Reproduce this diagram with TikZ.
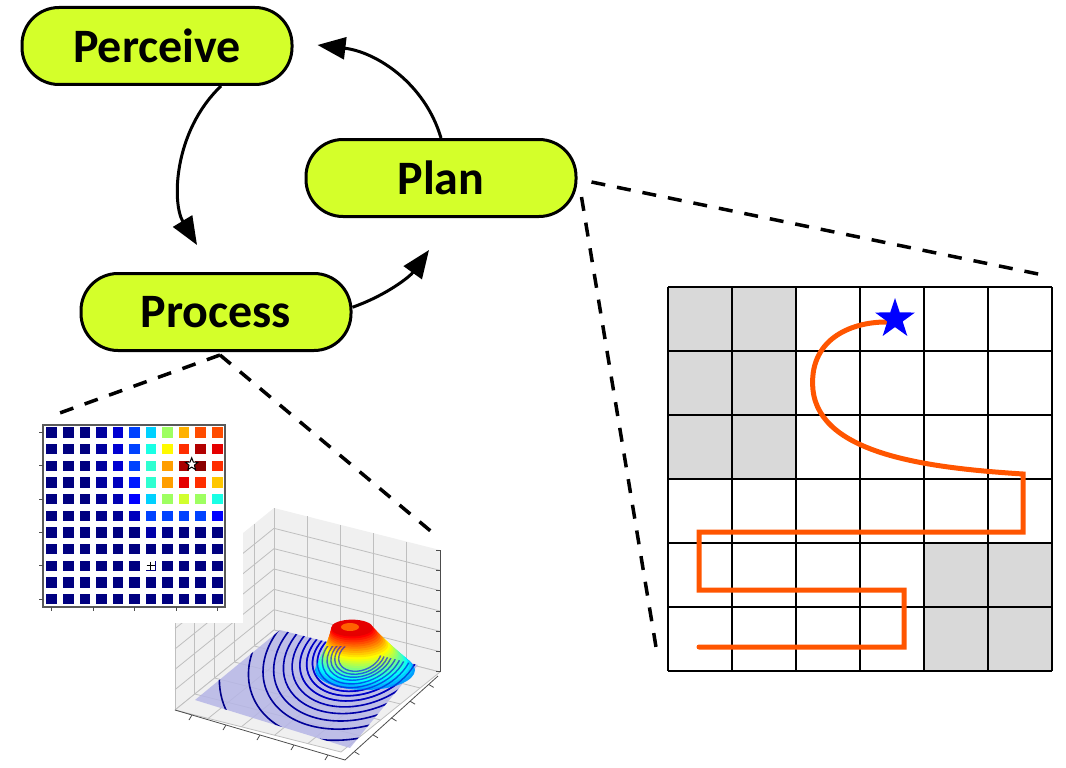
\documentclass[tikz,border=0pt]{standalone}
\usepackage{fontspec}
\setmainfont{Carlito}
\usetikzlibrary{arrows.meta,shapes.geometric,calc}

\definecolor{limefill}{RGB}{212,255,42}
\definecolor{pathorange}{RGB}{255,85,0}
\definecolor{cellgray}{RGB}{217,217,217}
\definecolor{wallgray}{RGB}{240,240,240}
\definecolor{floorblue}{RGB}{182,182,230}

% jet colour map: name, value in [0,1]
\newcommand{\setjet}[2]{%
  \pgfmathsetmacro\jetr{max(0,min(1,1.5-abs(4*(#2)-3)))}%
  \pgfmathsetmacro\jetg{max(0,min(1,1.5-abs(4*(#2)-2)))}%
  \pgfmathsetmacro\jetb{max(0,min(1,1.5-abs(4*(#2)-1)))}%
  \definecolor{#1}{rgb}{\jetr,\jetg,\jetb}}

\begin{document}
\begin{tikzpicture}[
  x=1pt, y=-1pt,
  stage/.style={draw=black, line width=3pt, fill=limefill, rounded corners=37pt,
    minimum width=270pt, minimum height=77pt, inner sep=0pt,
    font=\fontsize{48}{56}\selectfont\bfseries},
  flow/.style={line width=3pt, -{Triangle[length=28pt,width=22pt]}},
  zoomline/.style={line width=3.5pt, dash pattern=on 14pt off 12pt},
  gridline/.style={draw=black, line width=2pt},
  axgrid/.style={draw=black!25, line width=0.8pt},
  axline/.style={draw=black!70, line width=0.8pt},
]
\useasboundingbox (0,0) rectangle (1066,768);

% Geometry
\def\gridX{668}
\def\gridY{287}
\def\cell{64}

% 3D surface panel: walls and floor
\begin{scope}[shift={(274,630)}, x={(-99pt,-80pt)}, y={(0pt,122pt)}]
  \fill[wallgray] (0,0) -- (1,0) -- (1,1) -- (0,1) -- cycle;
  \foreach \u in {0,0.2,...,1} \draw[axgrid] (\u,0) -- (\u,1);
  \foreach \v in {0,0.1667,...,1} \draw[axgrid] (0,\v) -- (1,\v);
\end{scope}
\begin{scope}[shift={(274,630)}, x={(166pt,-42pt)}, y={(0pt,122pt)}]
  \fill[wallgray] (0,0) -- (1,0) -- (1,1) -- (0,1) -- cycle;
  \foreach \u in {0,0.2,...,1} \draw[axgrid] (\u,0) -- (\u,1);
  \foreach \v in {0,0.1667,...,1} \draw[axgrid] (0,\v) -- (1,\v);
\end{scope}
\begin{scope}[shift={(274,630)}, x={(-99pt,-80pt)}, y={(166pt,-42pt)}]
  \fill[wallgray] (0,0) -- (1,0) -- (1,1) -- (0,1) -- cycle;
  \foreach \u in {0,0.2,...,1} \draw[axgrid] (\u,0) -- (\u,1);
  \foreach \v in {0,0.2,...,1} \draw[axgrid] (0,\v) -- (1,\v);
\end{scope}

% Contour floor
\fill[floorblue, opacity=0.85] (195,700) -- (280,630) -- (418,665) -- (350,748) -- cycle;
\begin{scope}
  \clip (195,700) -- (280,630) -- (418,665) -- (350,748) -- cycle;
  \foreach \R [count=\k] in {145,115,100,89,79,70,62,55,49,44,39,34,30,26,22} {
    \setjet{ringc}{0.008*\k}
    \draw[ringc, line width=1.6pt, rotate around={20:(360,655)}]
      (360,655) ellipse [x radius=\R, y radius=0.7*\R];
  }
\end{scope}

% Surface bump
\foreach \t in {0,0.04,...,1.0} {
  \setjet{bumpc}{0.28+0.62*\t}
  \fill[bumpc]
    (365-13*\t,670-42*\t) ellipse [x radius={21+29*(1-\t)^1.15}, y radius={0.4*(21+29*(1-\t)^1.15)}];
}
\setjet{capc}{0.78}
\fill[capc] (350,627) ellipse [x radius=9, y radius=4];

% Contour lines seen through the lower surface
\begin{scope}
  \clip (195,700) -- (280,630) -- (418,665) -- (350,748) -- cycle;
  \clip (200,646) rectangle (440,760);
  \foreach \R [count=\k] in {62,55,49,44,39,34,30,26,22} {
    \setjet{ringc}{0.06+0.008*\k}
    \draw[ringc, line width=1.4pt, opacity=0.6, rotate around={20:(360,655)}]
      (360,655) ellipse [x radius=\R, y radius=0.7*\R];
  }
\end{scope}

% Axes
\draw[axline] (440,550) -- (440,672);
\foreach \k in {0,...,6} \draw[axline] (440,550+20.3*\k) -- ++(-4,0);
\draw[axline] (175,710) -- (345,760) -- (438,676);
\foreach \k in {0.1,0.3,0.5,0.7,0.9} {
  \draw[axline] ($(175,710)!\k!(345,760)$) -- ++(-3,5);
  \draw[axline] ($(345,760)!\k!(438,676)$) -- ++(5,3);
}

% Heatmap panel
\fill[white] (28,412) rectangle (243,623);
\foreach \vals [count=\j from 0] in {
  {0,0,0,0.03,0.08,0.19,0.33,0.53,0.70,0.80,0.80},
  {0,0,0,0.03,0.08,0.19,0.40,0.63,0.83,0.95,0.90},
  {0,0,0,0.03,0.08,0.19,0.42,0.72,0.96,0.99,0.83},
  {0,0,0,0.03,0.06,0.15,0.42,0.72,0.90,0.83,0.68},
  {0,0,0,0.02,0.05,0.125,0.33,0.53,0.58,0.53,0.40},
  {0,0,0,0.01,0.02,0.06,0.19,0.19,0.19,0.19,0.125},
  {0,0,0,0,0,0,0.04,0.01,0,0,0},
  {0,0,0,0,0,0,0,0,0,0,0},
  {0,0,0,0,0,0,0,0,0,0,0},
  {0,0,0,0,0,0,0,0,0,0,0},
  {0,0,0,0,0,0,0,0,0,0,0}} {
  \foreach \v [count=\i from 0] in \vals {
    \setjet{cellc}{\v}
    \fill[cellc] (51.7+16.56*\i-5.25,432.5+16.67*\j-5.25) rectangle ++(10.5,10.5);
  }
}
\draw[draw=black!65, line width=1.2pt] (42.9,425) rectangle (225,607);
\foreach \j in {0,2,...,10} \draw[black!70, line width=0.8pt] (42.9,432.5+16.67*\j) -- ++(-3.5,0);
\foreach \i in {0,2.5,...,10} \draw[black!70, line width=0.8pt] (51.7+16.56*\i,607) -- ++(0,3.5);
\node[fill=white, inner sep=0pt, minimum size=9pt] (startmark) at (150.7,565.7) {};
\draw[line width=1.2pt] ($(startmark)+(-4,0)$) -- ($(startmark)+(4,0)$)
  ($(startmark)+(0,-4)$) -- ($(startmark)+(0,4)$);
\node[star, star points=5, star point ratio=2.3, draw=black, line width=1pt, fill=white,
  inner sep=0pt, minimum size=13pt] (peakmark) at (191.7,464.3) {};

% Stages
\node[stage] (perceive) at (157,46) {Perceive};
\node[stage] (plan) at (441,178) {Plan};
\node[stage] (process) at (216,312) {Process};

% Cycle
\draw[flow] (perceive.-32) .. controls +(-48,46) and +(-25,-41.5) .. ($(process.north)+(-19,-27)$);
\draw[flow] (process.2) .. controls +(34,-12) and +(-19,26.5) .. ($(plan.south)+(-12,32)$);
\draw[flow] (plan.north) .. controls +(-16,-54.5) and +(59,7) .. ($(perceive.east)+(24,-1)$);

% Zoom lines
\coordinate (heatTL) at (57,414);
\coordinate (surfTR) at (433,533);
\coordinate (gridTR) at (1043,275);
\coordinate (gridBL) at (657,653);
\draw[zoomline] ($(process.south)+(4,3)$) -- (heatTL);
\draw[zoomline] ($(process.south)+(4,3)$) -- (surfTR);
\draw[zoomline] ($(plan.east)+(14,4)$) -- (gridTR);
\draw[zoomline] ($(plan.east)+(4,19)$) -- (gridBL);

% Occupancy grid
\fill[cellgray] (\gridX,\gridY) rectangle ++(2*\cell,3*\cell);
\fill[cellgray] (\gridX+4*\cell,\gridY+4*\cell) rectangle ++(2*\cell,2*\cell);
\foreach \k in {0,...,6} {
  \draw[gridline] (\gridX+\k*\cell,\gridY) -- ++(0,6*\cell);
  \draw[gridline] (\gridX,\gridY+\k*\cell) -- ++(6*\cell,0);
}

% Planned path
\draw[pathorange, line width=5pt, line cap=round]
  (699,647) -- (904,647) -- (904,590) -- (699,590) -- (699,532) -- (1023,532) -- (1023,474)
  .. controls (930,468) and (820,455) .. (813,390)
  .. controls (808,340) and (850,322) .. (886,322);
\node[star, star points=5, star point ratio=2.6, fill=blue, inner sep=0pt,
  minimum size=42pt] (goal) at (895,319) {};

\end{tikzpicture}
\end{document}
